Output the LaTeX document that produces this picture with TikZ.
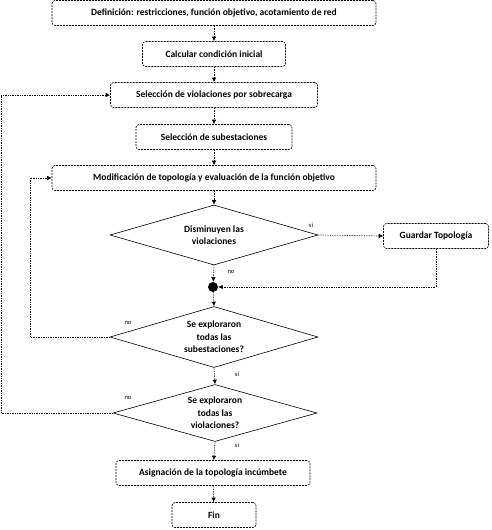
\documentclass[tikz,border=0pt]{standalone}
\usepackage{fontspec}
\setmainfont{Carlito}
\usepackage{tikz}
\usetikzlibrary{arrows.meta}
\usetikzlibrary{shapes.geometric}
\tikzset{box/.style = {draw, rounded corners=3, dash pattern=on 2pt off 1pt, line width=0.6pt,
                       minimum height=25, inner sep=0, font=\fontsize{9.5}{11}\selectfont\bfseries}}
\tikzset{decision/.style = {draw, diamond, aspect=3.5, inner sep=0, line width=0.6pt, align=center,
                            font=\fontsize{9.5}{12.5}\selectfont\bfseries}}
\tikzset{link/.style = {densely dotted, line width=0.7pt, -{Latex[length=4.5pt, width=4.5pt]}}}
\tikzset{tag/.style = {font=\fontsize{6.5}{7}\selectfont, inner sep=1}}
\tikzset{dot/.style = {fill, circle, inner sep = 0, minimum size = 10}}

\begin{document}
\begin{tikzpicture}[x=1pt, y=-1pt]
      \useasboundingbox (0, 0) rectangle (491, 530);

      \node [box, minimum width=324] (defin) at (214, 13) {Definición: restricciones, función objetivo, acotamiento de red};
      \node [box, minimum width=143] (calc) at (214, 54) {Calcular condición inicial};
      \node [box, minimum width=207] (selviol) at (214, 95) {Selección de violaciones por sobrecarga};
      \node [box, minimum width=156] (selsub) at (214, 137) {Selección de subestaciones};
      \node [box, minimum width=324] (modif) at (214, 178) {Modificación de topología y evaluación de la función objetivo};
      \node [decision, minimum width=208, minimum height=60] (dismin) at (214, 235) {Disminuyen las\\violaciones};
      \node [box, minimum width=105] (guardar) at (436, 236) {Guardar Topología};
      \node [dot] (junta) at (213, 287) {};
      \node [decision, minimum width=208, minimum height=61] (explsub) at (214, 337) {Se exploraron\\todas las\\subestaciones?};
      \node [decision, minimum width=204, minimum height=57] (explviol) at (215, 413) {Se exploraron\\todas las\\violaciones?};
      \node [box, minimum width=194] (asign) at (213, 473) {Asignación de la topología incúmbete};
      \node [box, minimum width=84] (fin) at (214, 515) {Fin};

      \coordinate (vueltasub) at (30, 337);
      \coordinate (vueltaviol) at (1, 413);

      \draw [link] (defin) -- (calc);
      \draw [link] (calc) -- (selviol);
      \draw [link] (selviol) -- (selsub);
      \draw [link] (selsub) -- (modif);
      \draw [link] (modif) -- (dismin);
      \draw [link] (dismin.east) -- (guardar.west);
      \draw [link] (dismin.south) -- (junta);
      \draw [link] (guardar.south) |- (junta);
      \draw [link] (junta) -- (explsub.north);
      \draw [link] (explsub.west) -- (vueltasub) |- (modif.west);
      \draw [link] (explsub.south) -- (explviol.north);
      \draw [link] (explviol.west) -- (vueltaviol) |- (selviol.west);
      \draw [link] (explviol.south) -- (asign);
      \draw [link] (asign) -- (fin);

      \node [tag] at (311, 225) {si};
      \node [tag] at (231, 272) {no};
      \node [tag] at (128, 323) {no};
      \node [tag] at (237, 374) {sí};
      \node [tag] at (128, 398) {no};
      \node [tag] at (237, 445) {sí};
    \end{tikzpicture}
\end{document}
